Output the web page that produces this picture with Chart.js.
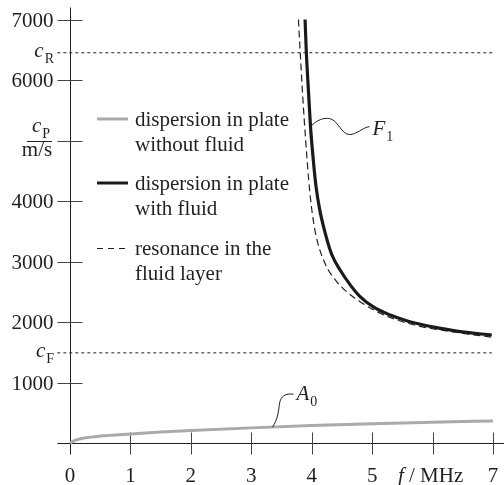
<!DOCTYPE html>
<html>
<head>
<meta charset="utf-8">
<script src="https://cdn.jsdelivr.net/npm/chart.js@4.4.1/dist/chart.umd.min.js"></script>
<style>
  html, body { margin: 0; padding: 0; background: #fff; }
  #wrap { width: 504px; height: 485px; }
</style>
</head>
<body>
<div id="wrap"><canvas id="chart" width="504" height="485"></canvas></div>
<script>
// values (f in MHz, c_P in m/s)
const a0Freq = [0, 0.1, 0.25, 0.5, 1, 1.5, 2, 3, 4, 5, 6, 7];
const a0Vel = [0, 50, 85, 115, 150, 180, 205, 250, 288, 320, 345, 365];

const f1Freq = [3.89, 3.91, 3.95, 3.98, 4.03, 4.07, 4.13, 4.21, 4.33, 4.47, 4.64, 4.80, 5.02, 5.30, 5.57, 5.85, 6.13, 6.46, 6.98];
const f1Vel = [7000, 6480, 5750, 5230, 4640, 4250, 3870, 3520, 3120, 2860, 2610, 2420, 2250, 2115, 2020, 1950, 1895, 1840, 1785];

const resFreq = [3.78, 3.81, 3.85, 3.90, 3.95, 3.99, 4.06, 4.22, 4.42, 4.58, 4.80, 5.08, 5.41, 5.74, 6.13, 6.57, 6.98];
const resVel = [7000, 6450, 5750, 5000, 4350, 3950, 3480, 2970, 2660, 2500, 2336, 2171, 2033, 1939, 1868, 1802, 1750];

const cR = 6450;
const cF = 1490;

const xTicks = [0, 1, 2, 3, 4, 5, 6, 7];
const xTickLabels = ['0', '1', '2', '3', '4', '5', '', '7'];
const yTicks = [1000, 2000, 3000, 4000, 5000, 6000, 7000];
const yTickLabels = ['1000', '2000', '3000', '4000', '', '6000', '7000'];

const legendItems = [
    { lines: ['dispersion in plate', 'without fluid'], color: '#aaaaaa', width: 3, dash: [] },
    { lines: ['dispersion in plate', 'with fluid'], color: '#1a1a1a', width: 3, dash: [] },
    { lines: ['resonance in the', 'fluid layer'], color: '#231f20', width: 1, dash: [6, 5] }
];

const INK = '#231f20';
const SERIF = '"Liberation Serif", "Times New Roman", serif';

function toPoints(xs, ys) {
    return xs.map((x, i) => ({ x: x, y: ys[i] }));
}

// italic letter with an upright subscript, e.g. c_R
function drawSubLabel(ctx, main, sub, x, y, align) {
    ctx.font = 'italic 21px ' + SERIF;
    const w1 = ctx.measureText(main).width;
    ctx.font = '14px ' + SERIF;
    const w2 = ctx.measureText(sub).width;
    let left = align === 'right' ? x - w1 - w2 : x;
    ctx.textAlign = 'left';
    ctx.textBaseline = 'alphabetic';
    ctx.font = 'italic 21px ' + SERIF;
    ctx.fillText(main, left, y);
    ctx.font = '14px ' + SERIF;
    ctx.fillText(sub, left + w1 + 1, y + 6);
}

const figurePlugin = {
    id: 'figure',
    beforeDatasetsDraw(chart) {
        const ctx = chart.ctx;
        const xs = chart.scales.x, ys = chart.scales.y;
        const x0 = Math.round(xs.getPixelForValue(0)) + 0.5;
        const y0 = Math.round(ys.getPixelForValue(0)) + 0.5;
        const yTop = ys.getPixelForValue(7000);
        ctx.save();
        ctx.strokeStyle = INK;
        ctx.lineWidth = 1;
        ctx.beginPath();
        // y axis
        ctx.moveTo(x0, yTop - 12);
        ctx.lineTo(x0, y0 + 11);
        // x axis
        ctx.moveTo(x0 - 13, y0);
        ctx.lineTo(chart.width, y0);
        ctx.stroke();

        ctx.strokeStyle = '#444';
        ctx.beginPath();
        yTicks.forEach(v => {
            const py = Math.round(ys.getPixelForValue(v)) + 0.5;
            ctx.moveTo(x0 - 13, py);
            ctx.lineTo(x0 + 12, py);
        });
        xTicks.forEach(v => {
            if (v === 0) return;
            const px = Math.round(xs.getPixelForValue(v)) + 0.5;
            ctx.moveTo(px, y0 - 11);
            ctx.lineTo(px, y0 + 11);
        });
        ctx.stroke();

        // tick labels
        ctx.fillStyle = INK;
        ctx.font = '21px ' + SERIF;
        ctx.textAlign = 'right';
        ctx.textBaseline = 'alphabetic';
        yTicks.forEach((v, i) => {
            ctx.fillText(yTickLabels[i], x0 - 17, ys.getPixelForValue(v) + 7);
        });
        ctx.textAlign = 'center';
        xTicks.forEach((v, i) => {
            ctx.fillText(xTickLabels[i], xs.getPixelForValue(v), 482);
        });

        // axis title "f / MHz" at the 6 MHz position
        ctx.font = 'italic 21px ' + SERIF;
        const wf = ctx.measureText('f').width;
        ctx.font = '21px ' + SERIF;
        const wr = ctx.measureText(' / MHz').width;
        const cx = xs.getPixelForValue(6) - 2;
        let lx = cx - (wf + wr) / 2;
        ctx.textAlign = 'left';
        ctx.font = 'italic 21px ' + SERIF;
        ctx.fillText('f', lx, 482);
        ctx.font = '21px ' + SERIF;
        ctx.fillText(' / MHz', lx + wf, 482);

        // y axis title c_P / (m/s) at 5000
        const p5 = ys.getPixelForValue(5000);
        drawSubLabel(ctx, 'c', 'P', 32, p5 - 9, 'left');
        ctx.strokeStyle = INK;
        ctx.beginPath();
        ctx.moveTo(27, Math.round(p5) + 0.5);
        ctx.lineTo(52, Math.round(p5) + 0.5);
        ctx.stroke();
        ctx.font = '21px ' + SERIF;
        ctx.textAlign = 'center';
        ctx.fillText('m/s', 37, p5 + 15);

        // c_R and c_F marks
        drawSubLabel(ctx, 'c', 'R', 53, ys.getPixelForValue(cR) + 4, 'right');
        drawSubLabel(ctx, 'c', 'F', 53, ys.getPixelForValue(cF) + 4, 'right');
        ctx.restore();
    },
    afterDatasetsDraw(chart) {
        const ctx = chart.ctx;
        const xs = chart.scales.x, ys = chart.scales.y;
        ctx.save();
        ctx.fillStyle = INK;

        // legend
        const baseY = [119, 183, 248];
        legendItems.forEach((it, i) => {
            const y = baseY[i];
            ctx.strokeStyle = it.color;
            ctx.lineWidth = it.width;
            ctx.setLineDash(it.dash);
            ctx.beginPath();
            ctx.moveTo(97, y + (it.width === 1 ? 0.5 : 0));
            ctx.lineTo(125 + (it.dash.length ? 0 : 3), y + (it.width === 1 ? 0.5 : 0));
            ctx.stroke();
            ctx.setLineDash([]);
            ctx.font = '21px ' + SERIF;
            ctx.textAlign = 'left';
            ctx.textBaseline = 'alphabetic';
            it.lines.forEach((t, j) => ctx.fillText(t, 135, y + 7 + j * 25));
        });

        // F1 leader, anchored on the F1 curve
        ctx.strokeStyle = INK;
        ctx.lineWidth = 1;
        const fx = xs.getPixelForValue(3.98), fy = ys.getPixelForValue(5230);
        ctx.beginPath();
        ctx.moveTo(fx, fy);
        ctx.bezierCurveTo(fx + 7, fy - 7, fx + 13, fy - 9, fx + 19, fy - 8);
        ctx.bezierCurveTo(fx + 27, fy - 7, fx + 31, fy + 8, fx + 39, fy + 8);
        ctx.bezierCurveTo(fx + 46, fy + 8, fx + 52, fy + 1, fx + 59, fy);
        ctx.stroke();
        drawSubLabel(ctx, 'F', '1', fx + 62, fy + 8, 'left');

        // A0 leader, anchored on the A0 curve
        const ax = xs.getPixelForValue(3.35), ay = ys.getPixelForValue(262);
        ctx.beginPath();
        ctx.moveTo(ax, ay);
        ctx.bezierCurveTo(ax + 5, ay - 7, ax + 6, ay - 15, ax + 7, ay - 23);
        ctx.bezierCurveTo(ax + 8, ay - 31, ax + 13, ay - 34, ax + 21, ay - 33);
        ctx.stroke();
        drawSubLabel(ctx, 'A', '0', ax + 24, ay - 27, 'left');
        ctx.restore();
    }
};

const ctx = document.getElementById('chart');
new Chart(ctx, {
    type: 'scatter',
    data: {
        datasets: [
            {
                label: 'c_R',
                data: toPoints([-0.21, 7.02], [cR, cR]),
                showLine: true,
                borderColor: INK,
                borderWidth: 1,
                borderDash: [3, 3],
                pointRadius: 0,
                clip: false
            },
            {
                label: 'c_F',
                data: toPoints([-0.21, 6.98], [cF, cF]),
                showLine: true,
                borderColor: INK,
                borderWidth: 1,
                borderDash: [3, 3],
                pointRadius: 0,
                clip: false
            },
            {
                label: 'resonance in the fluid layer',
                data: toPoints(resFreq, resVel),
                showLine: true,
                borderColor: INK,
                borderWidth: 1.2,
                borderDash: [7, 4],
                pointRadius: 0,
                cubicInterpolationMode: 'monotone',
                clip: false
            },
            {
                label: 'dispersion in plate with fluid',
                data: toPoints(f1Freq, f1Vel),
                showLine: true,
                borderColor: '#1a1a1a',
                borderWidth: 3.2,
                pointRadius: 0,
                cubicInterpolationMode: 'monotone',
                clip: false
            },
            {
                label: 'dispersion in plate without fluid',
                data: toPoints(a0Freq, a0Vel),
                showLine: true,
                borderColor: '#aaaaaa',
                borderWidth: 3,
                pointRadius: 0,
                cubicInterpolationMode: 'monotone',
                clip: false
            }
        ]
    },
    options: {
        responsive: false,
        animation: false,
        layout: { padding: { left: 70, right: 11, top: 19.5, bottom: 42 } },
        scales: {
            x: { type: 'linear', min: 0, max: 7, display: false },
            y: { type: 'linear', min: 0, max: 7000, display: false }
        },
        plugins: {
            legend: { display: false },
            tooltip: { enabled: false }
        }
    },
    plugins: [figurePlugin]
});
</script>
</body>
</html>
